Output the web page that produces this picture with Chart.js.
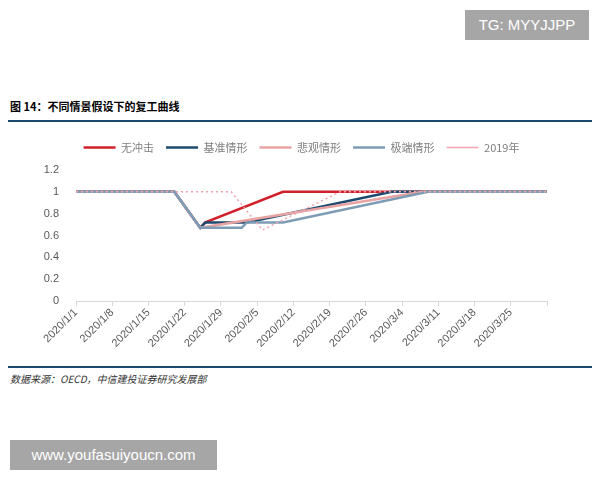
<!DOCTYPE html>
<html>
<head>
<meta charset="utf-8">
<script src="https://cdn.jsdelivr.net/npm/chart.js@4/dist/chart.umd.min.js"></script>
<style>
  body { margin: 0; background: #fff; }
  #page { position: relative; width: 600px; height: 480px; background: #fff; overflow: hidden; }
  .title { position: absolute; left: 10px; top: 98px; font: bold 11px "Noto Sans CJK SC", sans-serif; color: #000; }
  .rule { position: absolute; left: 8px; width: 584px; height: 2px; background: #1b4a6e; }
  .source { position: absolute; left: 10px; top: 371px; font: italic 10px "Noto Sans CJK SC", serif; color: #333; }
  .mark { position: absolute; background: #a6a6a6; color: #fff; font: 15px "Liberation Sans", Arial, sans-serif; text-align: center; }
  #box { position: absolute; left: 0; top: 126px; width: 600px; height: 225px; }
</style>
</head>
<body>
<div id="page">
  <div class="mark" style="left:465px;top:10px;width:124px;height:30px;line-height:30px;">TG: MYYJJPP</div>
  <div class="title">图 14：不同情景假设下的复工曲线</div>
  <div class="rule" style="top:120px"></div>
  <div id="box"><canvas id="recoveryChart"></canvas></div>
  <div class="rule" style="top:366px"></div>
  <div class="source">数据来源：OECD，中信建投证券研究发展部</div>
  <div class="mark" style="left:10px;top:440px;width:207px;height:30px;line-height:30px;">www.youfasuiyoucn.com</div>
</div>
<script>
// x = days since 2020/1/1, tick every 7 days
const tickLabels = ['2020/1/1', '2020/1/8', '2020/1/15', '2020/1/22', '2020/1/29', '2020/2/5',
  '2020/2/12', '2020/2/19', '2020/2/26', '2020/3/4', '2020/3/11', '2020/3/18', '2020/3/25'];

const noShockDays = [0, 19, 24, 25, 40, 91];
const noShockValues = [1, 1, 0.67, 0.72, 1, 1];

const baseDays = [0, 19, 24, 25, 33, 61, 91];
const baseValues = [1, 1, 0.67, 0.72, 0.72, 1, 1];

const pessimisticDays = [0, 19, 24, 67, 91];
const pessimisticValues = [1, 1, 0.67, 1, 1];

const extremeDays = [0, 19, 24, 32, 33, 40, 68, 91];
const extremeValues = [1, 1, 0.67, 0.67, 0.72, 0.72, 1, 1];

const y2019Days = [0, 30, 36, 51, 91];
const y2019Values = [1, 1, 0.65, 1, 1];

function pts(days, values) {
    return days.map(function(d, i) { return { x: d, y: values[i] }; });
}

document.addEventListener('DOMContentLoaded', function() {
    const ctx = document.getElementById('recoveryChart').getContext('2d');
    const line = function(label, data, color, order, extra) {
        return Object.assign({
            label: label,
            data: data,
            borderColor: color,
            backgroundColor: color,
            borderWidth: 2.5,
            pointRadius: 0,
            fill: false,
            tension: 0,
            order: order
        }, extra || {});
    };
    // nudge the legend a bit to the right, like the original
    const legendShift = {
        id: 'legendShift',
        afterLayout: function(chart) {
            chart.legend.left += 8;
            chart.legend.right += 8;
        }
    };
    new Chart(ctx, {
        type: 'line',
        data: {
            datasets: [
                line('无冲击', pts(noShockDays, noShockValues), '#d0202a', 5),
                line('基准情形', pts(baseDays, baseValues), '#1b4a6e', 4),
                line('悲观情形', pts(pessimisticDays, pessimisticValues), '#e8a3a3', 3),
                line('极端情形', pts(extremeDays, extremeValues), '#7d9cb5', 2),
                line('2019年', pts(y2019Days, y2019Values), '#f2a3ad', 1, { borderWidth: 1.5, borderDash: [2, 3] })
            ]
        },
        plugins: [legendShift],
        options: {
            responsive: true,
            maintainAspectRatio: false,
            animation: false,
            layout: {
                padding: { left: 40, right: 53, top: 4, bottom: 0 }
            },
            scales: {
                x: {
                    type: 'linear',
                    min: 0,
                    max: 91,
                    afterFit: function(scale) { scale.height = 50; },
                    grid: {
                        drawOnChartArea: false,
                        drawTicks: true,
                        tickLength: 5,
                        color: '#d9d9d9'
                    },
                    border: { color: '#d9d9d9' },
                    ticks: {
                        stepSize: 7,
                        autoSkip: false,
                        maxRotation: 45,
                        minRotation: 45,
                        padding: 0,
                        color: '#595959',
                        font: { family: 'Liberation Sans', size: 11 },
                        callback: function(value) {
                            const i = Math.round(value / 7);
                            return tickLabels[i] !== undefined ? tickLabels[i] : '';
                        }
                    }
                },
                y: {
                    min: 0,
                    max: 1.264,
                    afterFit: function(scale) { scale.width = 36; },
                    grid: { display: false },
                    border: { display: false },
                    ticks: {
                        stepSize: 0.2,
                        includeBounds: false,
                        padding: 9,
                        color: '#595959',
                        font: { family: 'Liberation Sans', size: 11 },
                        callback: function(value) { return Math.round(value * 10) / 10; }
                    }
                }
            },
            plugins: {
                legend: {
                    display: true,
                    position: 'top',
                    labels: {
                        usePointStyle: true,
                        pointStyle: 'line',
                        pointStyleWidth: 32,
                        padding: 12,
                        color: '#7f7f7f',
                        font: { family: 'Noto Sans CJK SC', size: 11 },
                        sort: function(a, b) { return a.datasetIndex - b.datasetIndex; }
                    }
                },
                tooltip: { enabled: false }
            }
        }
    });
});
</script>
</body>
</html>
